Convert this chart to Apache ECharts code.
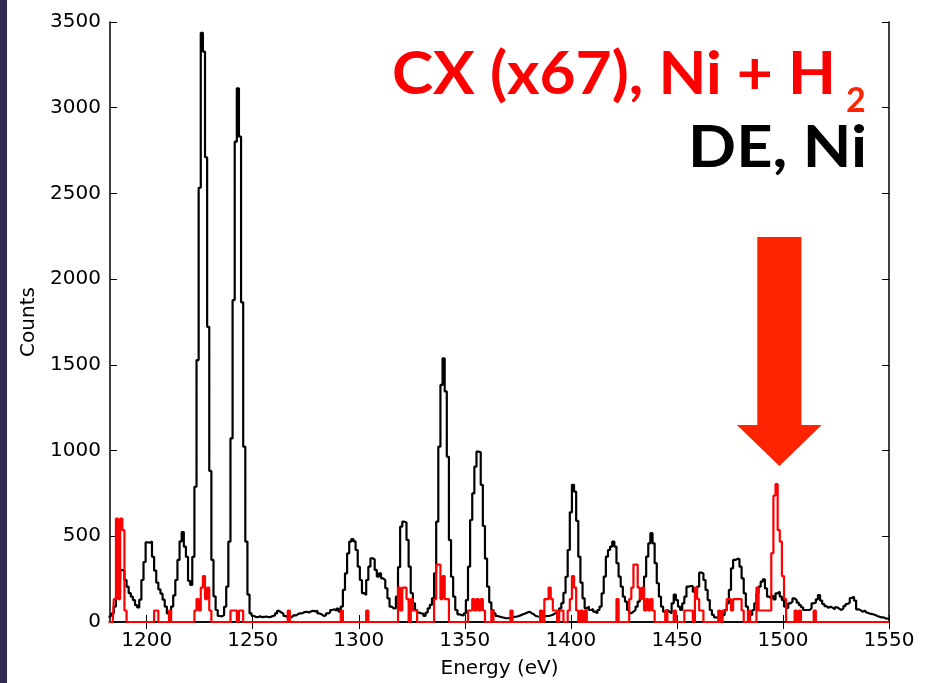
<!DOCTYPE html>
<html>
<head>
<meta charset="utf-8">
<script src="https://cdn.jsdelivr.net/npm/echarts@6/dist/echarts.min.js"></script>
<style>
  html, body { margin: 0; padding: 0; background: #fff; }
  #chart { width: 934px; height: 683px; }
</style>
</head>
<body>
<div id="chart"></div>
<script>
// histogram bins: 1 eV wide, centres from 1182 eV up to 1550 eV
var binStart = 1182;
var binWidth = 1;

// DE, Ni  (direct excitation), counts per bin
var deCounts = [
  30, 32, 51, 90, 148, 245, 303, 300, 245, 206,          // 1182
  168, 148, 128, 99, 85, 130, 245, 350, 465, 462,        // 1192
  470, 380, 300, 230, 190, 165, 130, 90, 50, 45,         // 1202
  90, 155, 245, 362, 470, 525, 440, 380, 240, 216,       // 1212
  380, 789, 1528, 2533, 3437, 3327, 2711, 1722, 881, 362, // 1222
  150, 70, 35, 33, 40, 89, 206, 469, 1071, 1878,         // 1232
  2802, 3113, 2831, 1865, 1023, 469, 160, 50, 35, 30,    // 1242
  28, 33, 28, 30, 32, 28, 30, 35, 38, 50,                // 1252
  65, 55, 48, 35, 28, 25, 30, 40, 38, 48,                // 1262
  50, 52, 58, 60, 55, 62, 66, 62, 66, 50,                // 1272
  45, 35, 38, 50, 55, 70, 74, 66, 78, 60,                // 1282
  90, 187, 284, 400, 469, 484, 470, 420, 323, 245,       // 1292
  168, 158, 245, 323, 372, 365, 304, 265, 284, 255,      // 1302
  245, 197, 138, 90, 80, 80, 148, 320, 556, 585,         // 1312
  580, 479, 323, 168, 109, 70, 55, 50, 48, 35,           // 1322
  55, 80, 100, 138, 284, 585, 1023, 1383, 1538, 1345,    // 1332
  964, 478, 264, 148, 70, 45, 40, 38, 50, 128,           // 1342
  323, 595, 750, 906, 994, 990, 800, 560, 370, 206,      // 1352
  115, 70, 50, 35, 31, 28, 25, 22, 22, 25,               // 1362
  28, 30, 32, 35, 40, 45, 50, 55, 60, 52,                // 1372
  45, 35, 32, 30, 30, 32, 35, 35, 38, 42,                // 1382
  50, 55, 58, 80, 110, 170, 264, 420, 640, 800,          // 1392
  760, 590, 381, 230, 138, 80, 90, 70, 75, 60,           // 1402
  51, 70, 90, 167, 265, 381, 420, 440, 469, 440,         // 1412
  343, 265, 206, 148, 119, 70, 51, 60, 70, 90,           // 1422
  119, 138, 150, 265, 381, 459, 518, 459, 343, 226,      // 1432
  148, 90, 60, 70, 60, 51, 109, 160, 128, 90,            // 1442
  70, 109, 148, 206, 210, 210, 177, 167, 206, 288,       // 1452
  283, 245, 187, 128, 70, 41, 27, 25, 25, 27,            // 1462
  41, 70, 109, 187, 313, 362, 368, 368, 323, 255,        // 1472
  167, 90, 60, 41, 70, 109, 167, 206, 235, 249,          // 1482
  196, 148, 138, 152, 132, 167, 177, 148, 128, 90,       // 1492
  80, 109, 119, 138, 128, 113, 99, 86, 70, 70,           // 1502
  70, 80, 109, 113, 132, 157, 125, 105, 93, 82,          // 1512
  90, 82, 74, 86, 78, 70, 80, 93, 105, 113,              // 1522
  140, 148, 125, 74, 70, 60, 66, 55, 51, 47,             // 1532
  45, 41, 35, 31, 27, 27, 21, 19, 19                     // 1542
];

// CX, Ni + H2 (charge exchange), raw counts per bin, plotted x67
var cxScale = 67;
var cxCounts = [
  0, 0, 0, 2, 9, 2, 9, 8, 1, 0,   // 1182
  0, 0, 0, 0, 0, 0, 0, 0, 0, 0,   // 1192
  0, 0, 1, 1, 0, 0, 0, 0, 0, 1,   // 1202
  0, 0, 0, 0, 0, 0, 0, 0, 0, 0,   // 1212
  0, 1, 2, 1, 3, 4, 2, 3, 1, 0,   // 1222
  0, 0, 0, 0, 0, 0, 0, 0, 1, 1,   // 1232
  1, 0, 1, 1, 0, 0, 0, 0, 0, 0,   // 1242
  0, 0, 0, 0, 0, 0, 0, 0, 0, 0,   // 1252
  0, 0, 0, 0, 0, 1, 0, 0, 0, 0,   // 1262
  0, 0, 0, 0, 0, 0, 0, 0, 0, 0,   // 1272
  0, 0, 0, 0, 0, 0, 0, 0, 0, 0,   // 1282
  1, 0, 0, 0, 0, 0, 0, 0, 0, 0,   // 1292
  0, 0, 1, 0, 0, 0, 0, 0, 0, 0,   // 1302
  0, 0, 0, 0, 0, 0, 0, 3, 1, 3,   // 1312
  3, 2, 0, 2, 1, 1, 0, 0, 0, 0,   // 1322
  0, 0, 0, 0, 2, 5, 5, 2, 4, 2,   // 1332
  2, 0, 0, 0, 0, 0, 0, 0, 0, 0,   // 1342
  1, 1, 2, 1, 2, 1, 2, 1, 0, 0,   // 1352
  0, 1, 0, 0, 0, 0, 0, 0, 0, 0,   // 1362
  1, 0, 0, 0, 0, 0, 0, 0, 0, 0,   // 1372
  0, 0, 0, 0, 1, 0, 2, 2, 3, 2,   // 1382
  1, 1, 0, 1, 1, 0, 0, 1, 2, 4,   // 1392
  3, 1, 0, 1, 0, 1, 0, 0, 0, 0,   // 1402
  0, 0, 0, 0, 0, 0, 0, 0, 0, 0,   // 1412
  2, 0, 0, 0, 0, 0, 2, 3, 5, 5,   // 1422
  3, 2, 3, 1, 2, 1, 2, 1, 0, 0,   // 1432
  0, 0, 0, 1, 0, 0, 0, 1, 0, 0,   // 1442
  0, 0, 1, 1, 1, 1, 0, 3, 2, 1,   // 1452
  1, 0, 0, 0, 0, 0, 0, 0, 1, 0,   // 1462
  1, 1, 2, 2, 1, 2, 2, 2, 2, 1,   // 1472
  0, 0, 1, 0, 0, 0, 3, 1, 1, 1,   // 1482
  1, 1, 1, 6, 11, 12, 8, 7, 4, 2, // 1492
  0, 0, 0, 0, 1, 0, 1, 0, 0, 0,   // 1502
  0, 0, 0, 1, 0, 0, 0, 0, 0, 0,   // 1512
  0, 0, 0, 0, 0, 0, 0, 0, 0, 0,   // 1522
  0, 0, 0, 0, 0, 0, 0, 0, 0, 0,   // 1532
  0, 0, 0, 0, 0, 0, 0, 0, 0       // 1542
];

var xTicks = [1200, 1250, 1300, 1350, 1400, 1450, 1500, 1550];
var yTicks = [0, 500, 1000, 1500, 2000, 2500, 3000, 3500];

var deData = [];
var cxData = [];
for (var i = 0; i < deCounts.length; i++) {
  var e = binStart + i * binWidth;
  deData.push([e, deCounts[i]]);
  cxData.push([e, cxCounts[i] * cxScale]);
}

var tickFont = { fontFamily: "DejaVu Sans", fontSize: 20, color: "#000" };
var axisLine = { show: true, lineStyle: { color: "#000", width: 1.5 } };
function plain(v) {
  return String(v);
}

function xAxisOpt(pos, showLabels) {
  return {
    type: "value",
    position: pos,
    min: 1182.7,
    max: 1550,
    splitLine: { show: false },
    axisLine: axisLine,
    axisTick: {
      inside: true,
      length: 7,
      customValues: xTicks,
      lineStyle: { color: "#000", width: 1 },
    },
    axisLabel: Object.assign(
      { show: showLabels, margin: 9, customValues: xTicks, formatter: plain },
      tickFont
    ),
  };
}

function yAxisOpt(pos, showLabels) {
  return {
    type: "value",
    position: pos,
    min: 0,
    max: 3500,
    interval: 500,
    splitLine: { show: false },
    axisLine: axisLine,
    axisTick: {
      inside: true,
      length: 7,
      customValues: yTicks,
      lineStyle: { color: "#000", width: 1 },
    },
    axisLabel: Object.assign(
      { show: showLabels, margin: 9, customValues: yTicks, formatter: plain },
      tickFont
    ),
  };
}

var chart = echarts.init(document.getElementById("chart"), null, {
  renderer: "canvas",
});

var bottomX = xAxisOpt("bottom", true);
bottomX.name = "Energy (eV)";
bottomX.nameLocation = "middle";
bottomX.nameGap = 37;
bottomX.nameTextStyle = { fontFamily: "DejaVu Sans", fontSize: 20, color: "#000" };

var leftY = yAxisOpt("left", true);
leftY.name = "Counts";
leftY.nameLocation = "middle";
leftY.nameGap = 60;
leftY.nameTextStyle = { fontFamily: "DejaVu Sans", fontSize: 20, color: "#000" };

chart.setOption({
  animation: false,
  backgroundColor: "#fff",
  grid: {
    left: 110,
    right: 45,
    top: 22,
    bottom: 61,
    outerBoundsMode: "none",
  },
  xAxis: [bottomX, xAxisOpt("top", false)],
  yAxis: [leftY, yAxisOpt("right", false)],
  series: [
    {
      name: "DE, Ni",
      type: "line",
      step: "middle",
      data: deData,
      showSymbol: false,
      clip: true,
      lineStyle: { color: "#000", width: 2.2 },
    },
    {
      name: "CX (x67), Ni + H2",
      type: "line",
      step: "middle",
      data: cxData,
      showSymbol: false,
      clip: true,
      lineStyle: { color: "#ff0000", width: 2.2 },
    },
  ],
});

// arrow pointing at the CX line near 1498 eV, given in data units
var arrowX = 1498.3;
var shaftHalf = 10.4, headHalf = 20;
var tipY = 910, headY = 1149, topY = 2246;
function px(x, y) {
  return chart.convertToPixel({ gridIndex: 0 }, [x, y]);
}
var arrowPts = [
  px(arrowX - shaftHalf, topY),
  px(arrowX + shaftHalf, topY),
  px(arrowX + shaftHalf, headY),
  px(arrowX + headHalf, headY),
  px(arrowX, tipY),
  px(arrowX - headHalf, headY),
  px(arrowX - shaftHalf, headY),
];

chart.setOption({
  graphic: [
    {
      type: "rect",
      shape: { x: 0, y: 0, width: 7, height: 683 },
      style: { fill: "#2f2c52" },
      silent: true,
    },
    {
      type: "polygon",
      shape: { points: arrowPts },
      style: { fill: "#ff2400" },
      silent: true,
    },
    {
      type: "text",
      x: 836,
      y: 75,
      scaleX: 1.037,
      style: {
        text: "CX (x67), Ni + H",
        fill: "#ff0000",
        font: "bold 60px Lato",
        align: "right",
        verticalAlign: "middle",
      },
    },
    {
      type: "text",
      x: 846,
      y: 101,
      style: {
        text: "2",
        fill: "#ff2400",
        font: "bold 34px Lato",
        align: "left",
        verticalAlign: "middle",
      },
    },
    {
      type: "text",
      x: 867,
      y: 148,
      scaleX: 1.09,
      style: {
        text: "DE, Ni",
        fill: "#000",
        font: "bold 58px Lato",
        align: "right",
        verticalAlign: "middle",
      },
    },
  ],
});
</script>
</body>
</html>
